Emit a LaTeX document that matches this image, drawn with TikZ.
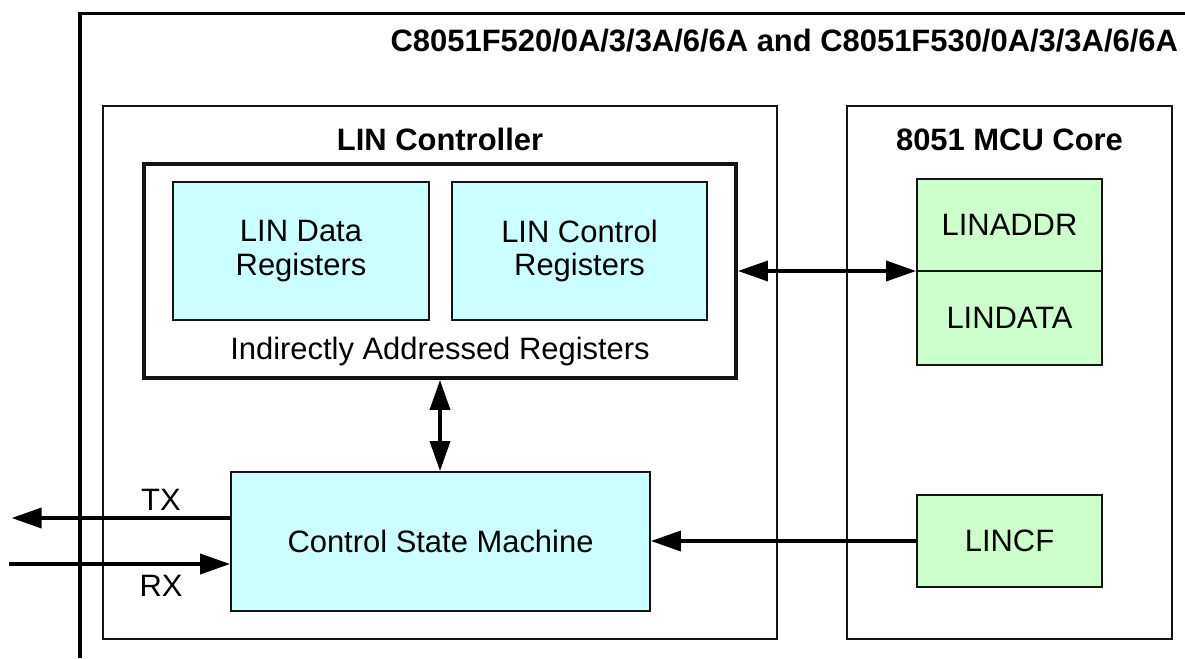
\documentclass[tikz,border=0pt]{standalone}
\usepackage{fontspec}
\setmainfont{Liberation Sans}
\usepackage{xcolor}
\usepackage{tikz}
\usetikzlibrary{arrows.meta, positioning, calc}
\definecolor{mydark}{RGB}{20,20,20}
\definecolor{linecyan}{RGB}{204,255,255}
\definecolor{linegreen}{RGB}{204,255,204}
\tikzset{
  bigfont/.style={font=\fontsize{22}{24}\selectfont},
  headfont/.style={font=\fontsize{22}{24}\selectfont\bfseries},
  area/.style={rectangle, draw=mydark, line width=1.3pt, inner sep=0pt},
  regblock/.style={rectangle, draw=mydark, fill=linecyan, line width=1.3pt,
    align=center, inner sep=0pt, bigfont},
  corereg/.style={rectangle, draw=mydark, fill=linegreen, line width=1.3pt,
    align=center, inner sep=0pt, bigfont, minimum width=4.625cm},
  bus/.style={line width=2.6pt, color=black},
  arrow/.style={bus, -{Triangle[length=0.75cm, width=0.5cm]}},
  dblarrow/.style={bus, {Triangle[length=0.75cm, width=0.5cm]}-{Triangle[length=0.75cm, width=0.5cm]}}
}

\begin{document}
\begin{tikzpicture}
  \useasboundingbox (0,0) rectangle (29.625,-16.45);

  % Device outline, open to the right and below
  \draw[line width=2.8pt] (29.625,-0.3375) -- (2.0,-0.3375) -- (2.0,-16.45);
  \node[headfont, anchor=base east] (dev) at (29.575,-1.2875)
    {C8051F520/0A/3/3A/6/6A and C8051F530/0A/3/3A/6/6A};

  % Two main areas
  \node[area, minimum width=16.85cm, minimum height=13.325cm] (ctrl) at (11.0,-9.3125) {};
  \node[area, minimum width=8.125cm, minimum height=13.325cm] (core) at (25.2375,-9.3125) {};
  \node[headfont, anchor=base] (ctrllbl) at (11.0,-3.75) {LIN Controller};
  \node[headfont, anchor=base] (corelbl) at (25.2375,-3.75) {8051 MCU Core};

  % Indirectly addressed register group
  \node[area, line width=2.8pt, minimum width=14.8cm, minimum height=5.35cm] (ind) at (11.0,-6.775) {};
  \node[regblock, minimum width=6.4cm, minimum height=3.45cm] (datareg) at (7.525,-6.275)
    {LIN Data\\Registers};
  \node[regblock, minimum width=6.375cm, minimum height=3.45cm] (ctlreg) at (14.4875,-6.275)
    {LIN Control\\Registers};
  \node[bigfont, anchor=base] (indlbl) at (11.0,-8.975) {Indirectly Addressed Registers};

  % State machine
  \node[regblock, minimum width=10.475cm, minimum height=3.475cm] (csm) at (11.0125,-13.5375)
    {Control State Machine};

  % SFRs in the core
  \node[corereg, minimum height=2.3cm] (linaddr) at (25.2375,-5.625) {LINADDR};
  \node[corereg, minimum height=2.35cm] (lindata) at (25.2375,-7.95) {LINDATA};
  \node[corereg, minimum height=2.3cm] (lincf) at (25.2375,-13.525) {LINCF};

  % Connections
  \draw[dblarrow] (ind.east) -- (ind.east -| lindata.west);
  \draw[dblarrow] (ind.south) -- (ind.south |- csm.north);
  \draw[arrow] (lincf.west) -- (lincf.west -| csm.east);

  \coordinate (txend) at (0.29,-12.95);
  \coordinate (rxstart) at (0.225,-14.1);
  \draw[arrow] (csm.west |- txend) -- (txend);
  \draw[arrow] (rxstart) -- (rxstart -| csm.west);
  \node[bigfont] (txlbl) at (4.025,-12.5) {TX};
  \node[bigfont] (rxlbl) at (4.025,-14.65) {RX};
\end{tikzpicture}
\end{document}
